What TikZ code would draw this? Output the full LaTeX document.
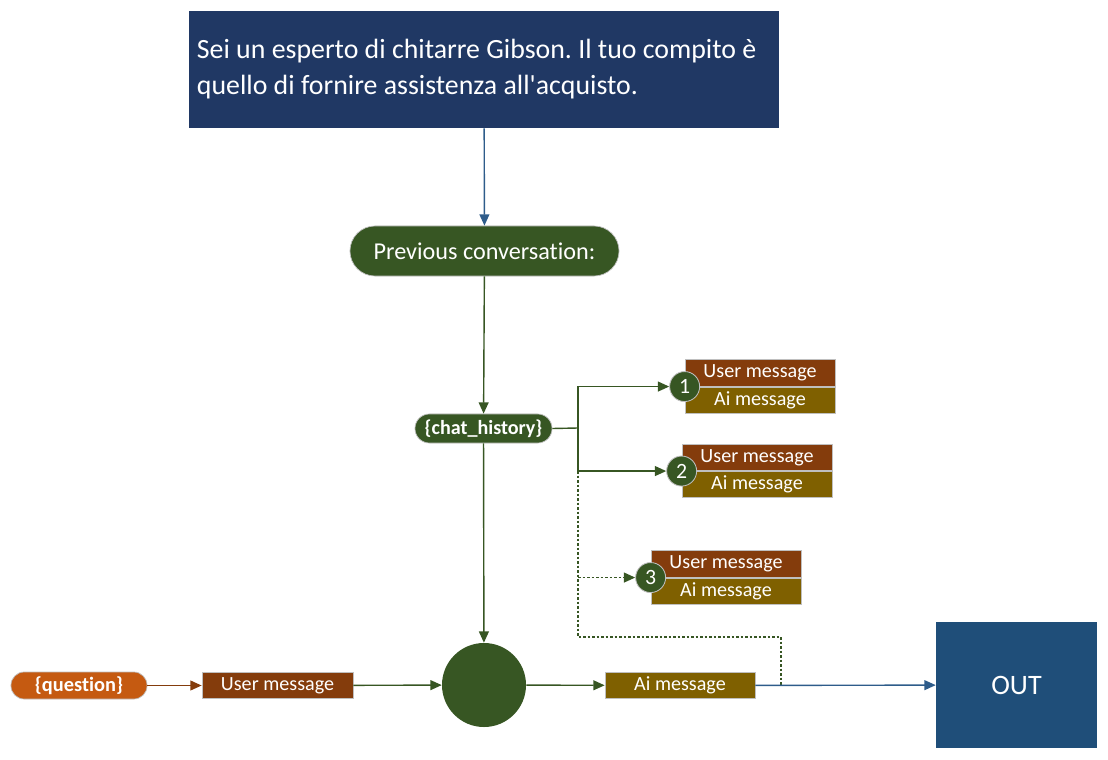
\documentclass[tikz,border=0pt]{standalone}
\usepackage{fontspec}
\setmainfont{Carlito}[Ligatures=NoCommon]
\usetikzlibrary{arrows.meta,positioning}

\definecolor{ccnavy}{RGB}{32,56,100}
\definecolor{ccblue}{RGB}{31,78,121}
\definecolor{cclink}{RGB}{46,92,138}
\definecolor{ccgreen}{RGB}{55,86,35}
\definecolor{ccbrown}{RGB}{132,60,12}
\definecolor{ccolive}{RGB}{127,96,0}
\definecolor{ccorange}{RGB}{197,90,17}

\begin{document}
\frenchspacing
\begin{tikzpicture}[x=0.025cm, y=-0.025cm,
  tip/.style={-{Triangle[length=8pt, width=7pt]}},
  link/.style={line width=1pt},
  dots/.style={line width=1pt, ccgreen, dash pattern=on 1.8pt off 1.4pt},
  msgbox/.style={draw=white!75!black, line width=0.5pt, text=white, inner sep=0pt,
    minimum width=3.75cm, minimum height=0.66cm, font=\fontsize{14.3}{16}\selectfont},
  usermsg/.style={msgbox, fill=ccbrown},
  aimsg/.style={msgbox, fill=ccolive},
  pill/.style={draw=white!75!black, line width=0.5pt, text=white, inner sep=0pt},
  numdot/.style={circle, draw=white!75!black, line width=0.6pt, fill=ccgreen, text=white,
    minimum size=0.75cm, inner sep=0pt, font=\fontsize{15.5}{18}\selectfont}]

  \useasboundingbox (0,0) rectangle (1108,760);

  % System prompt
  \node[fill=ccnavy, text=white, minimum width=14.75cm, minimum height=2.925cm,
    text width=14.35cm, align=flush left, inner sep=0pt, font=\fontsize{19.8}{25.6}\selectfont]
    (sys) at (484,69.5) {Sei un esperto di chitarre Gibson. Il tuo compito è\\quello di fornire assistenza all\textquotesingle acquisto.};

  % Previous conversation
  \node[pill, fill=ccgreen, minimum width=6.725cm, minimum height=1.25cm, rounded corners=0.625cm,
    font=\fontsize{17.2}{20}\selectfont] (prev) at (484.5,251) {Previous conversation:};

  % Chat history
  \node[pill, fill=ccgreen, minimum width=3.425cm, minimum height=0.725cm, rounded corners=0.36cm,
    font=\bfseries\fontsize{14.3}{16}\selectfont] (ch) at (483.5,428.5) {\{chat\_history\}};

  % History messages
  \node[usermsg] (u1) at (760,373) {User message};
  \node[aimsg, below=0pt of u1] (a1) {Ai message};
  \node[usermsg] (u2) at (757,457.5) {User message};
  \node[aimsg, below=0pt of u2] (a2) {Ai message};
  \node[usermsg] (u3) at (726,564) {User message};
  \node[aimsg, below=0pt of u3] (a3) {Ai message};
  \node[numdot] (n1) at (u1.south west) {1};
  \node[numdot] (n2) at (u2.south west) {2};
  \node[numdot] (n3) at (u3.south west) {3};

  % Bottom row
  \node[pill, fill=ccorange, minimum width=3.4cm, minimum height=0.675cm, rounded corners=0.33cm,
    font=\bfseries\fontsize{14.5}{16}\selectfont] (q) at (79,685.5) {\{question\}};
  \node[usermsg, minimum width=3.775cm] (um) at (277.5,685.5) {User message};
  \node[circle, fill=ccgreen, minimum size=2.1cm, inner sep=0pt] (llm) at (484,685) {};
  \node[aimsg] (am) at (680,685.5) {Ai message};
  \node[fill=ccblue, text=white, minimum width=4.025cm, minimum height=3.15cm, inner sep=0pt,
    font=\fontsize{20}{24}\selectfont] (out) at (1016.5,685) {OUT};

  % Connectors
  \coordinate (j) at (578,428);
  \coordinate (d1) at (578,637);
  \coordinate (d2) at (781,637);
  \coordinate (d3) at (781,685);

  \draw[link, tip, cclink] (sys) -- (prev);
  \draw[link, tip, ccgreen] (prev) -- (ch);
  \draw[link, ccgreen] (ch.east) -- (j);
  \draw[link, tip, ccgreen] (j) |- (n1);
  \draw[link, tip, ccgreen] (j) |- (n2);
  \draw[dots] (j |- n2) -- (d1) -- (d2) -- (d3);
  \draw[dots, tip] (j |- n3) -- (n3);
  \draw[link, tip, ccgreen] (ch) -- (llm);
  \draw[link, tip, ccbrown] (q) -- (um);
  \draw[link, tip, ccgreen] (um) -- (llm);
  \draw[link, tip, ccgreen] (llm) -- (am);
  \draw[link, tip, cclink] (am) -- (out);

\end{tikzpicture}
\end{document}
